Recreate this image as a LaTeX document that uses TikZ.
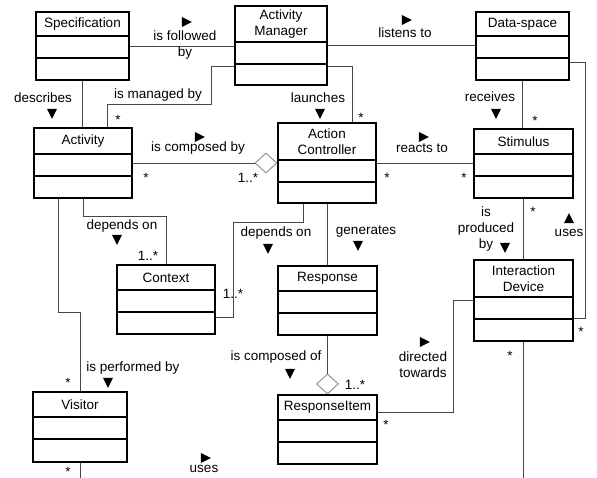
\documentclass[tikz,border=0pt]{standalone}
\usepackage{fontspec}
\setmainfont{Liberation Sans}
\usetikzlibrary{fit,shapes.geometric}

% class box: name, left, top, right, bottom, first divider, second divider, title
\newcommand{\umlclass}[8]{%
  \node[classbox, fit={(#2,#3) (#4,#5)}] (#1) {};
  \node[classname] (#1-name) at ({(#2+#4)/2},{(#3+#6)/2}) {#8};
  \draw[divider] (#2,#6) -- (#4,#6) (#2,#7) -- (#4,#7);
}

\begin{document}
\begin{tikzpicture}[x=1pt,y=-1pt,font=\fontsize{13.5}{16}\selectfont]
        \tikzstyle{classbox}=[rectangle,draw=black,line width=1.2pt,inner sep=0pt]
        \tikzstyle{classname}=[align=center,inner sep=0pt]
        \tikzstyle{divider}=[draw=black,line width=1.2pt]
        \tikzstyle{assoc}=[draw=black!72,line width=0.9pt]
        \tikzstyle{agg}=[diamond,draw=black!45,fill=white,line width=0.9pt,inner sep=0pt,minimum width=22pt,minimum height=20pt]
        \tikzstyle{lab}=[align=center,inner sep=0pt]
        \tikzstyle{mult}=[inner sep=0pt]
        \tikzstyle{tri}=[isosceles triangle,isosceles triangle stretches,fill=black,inner sep=0pt,minimum width=10pt,minimum height=10pt,shape border rotate=#1]

        \path[use as bounding box,fill=white] (0,0) rectangle (597,478);

        % classes
        \umlclass{spec}{36}{12}{129}{80}{36}{58}{Specification}
        \umlclass{mgr}{235}{6}{327}{85}{42}{64}{Activity\\Manager}
        \umlclass{space}{476}{12}{569}{80}{36}{58}{Data-space}
        \umlclass{act}{34}{128}{132}{198}{154}{176}{Activity}
        \umlclass{ctrl}{278}{123}{376}{203}{160}{182}{Action\\Controller}
        \umlclass{stim}{474}{129}{573}{198}{154}{176}{Stimulus}
        \umlclass{ctx}{117}{265}{215}{334}{290}{312}{Context}
        \umlclass{resp}{278}{266}{377}{335}{291}{313}{Response}
        \umlclass{dev}{474}{260}{573}{341}{297}{319}{Interaction\\Device}
        \umlclass{vis}{33}{392}{127}{462}{417}{439}{Visitor}
        \umlclass{item}{278}{395}{377}{464}{420}{442}{ResponseItem}

        \node[agg, anchor=east] (aggctrl) at (ctrl.west) {};
        \node[agg, anchor=south] (aggitem) at (item.north) {};

        \coordinate (mgdbend) at (211,104);
        \coordinate (usesbend) at (585,318);
        \coordinate (depbend) at (166,216);
        \coordinate (ctxbend) at (233,222);
        \coordinate (dirbend) at (453,412);
        \coordinate (perfbend) at (80,312);
        \coordinate (visend) at (80,478);
        \coordinate (devend) at (523.5,478);

        % associations
        \draw[assoc] (spec.east) -- (spec.east -| mgr.west);
        \draw[assoc] (mgr.east) -- (mgr.east -| space.west);
        \draw[assoc] (spec.south) -- (spec.south |- act.north);
        \draw[assoc] ([xshift=24]act.north) |- (mgdbend) |- ([yshift=-20.5]mgr.west);
        \draw[assoc] ([yshift=-20.5]mgr.east) -| ([xshift=25]ctrl.north);
        \draw[assoc] (space.south) -- (space.south |- stim.north);
        \draw[assoc] ([yshift=-16]space.east) -| (usesbend) -- (usesbend -| dev.east);
        \draw[assoc] (act.east) -- (aggctrl.west);
        \draw[assoc] (ctrl.east) -- (ctrl.east -| stim.west);
        \draw[assoc] (act.south) |- (depbend) -- (ctx.north);
        \draw[assoc] ([yshift=-17.5]ctx.east) -| (ctxbend) -| ([xshift=-24]ctrl.south);
        \draw[assoc] (ctrl.south) -- (ctrl.south |- resp.north);
        \draw[assoc] (stim.south) -- (dev.north);
        \draw[assoc] (dev.west) -| (dirbend) -- (dirbend -| item.east);
        \draw[assoc] (resp.south) -- (aggitem.north);
        \draw[assoc] ([xshift=-25]act.south) |- (perfbend) -- (vis.north);
        \draw[assoc] (vis.south) -- (visend);
        \draw[assoc] (dev.south) -- (devend);

        % labels
        \node[tri=0] (tfollow) at (185,22) {};
        \node[lab] (lfollow) at (185,45) {is followed\\by};
        \node[tri=0] (tlisten) at (405,20) {};
        \node[lab] (llisten) at (405,33) {listens to};
        \node[lab] (ldescr) at (43,98) {describes};
        \node[tri=-90] (tdescr) at (52,112) {};
        \node[lab] (lmanaged) at (158,95) {is managed by};
        \node[lab] (llaunch) at (318,98) {launches};
        \node[tri=-90] (tlaunch) at (320,112) {};
        \node[lab] (lrecv) at (490,97) {receives};
        \node[tri=-90] (trecv) at (496,112) {};
        \node[tri=90] (tuses) at (569,220) {};
        \node[lab] (luses) at (569,233) {uses};
        \node[tri=0] (tcompby) at (198,137) {};
        \node[lab] (lcompby) at (198,148) {is composed by};
        \node[tri=0] (treact) at (422,137) {};
        \node[lab] (lreact) at (422,148) {reacts to};
        \node[lab] (ldep1) at (122,226) {depends on};
        \node[tri=-90] (tdep1) at (117,238) {};
        \node[lab] (ldep2) at (276,233) {depends on};
        \node[tri=-90] (tdep2) at (268,247) {};
        \node[lab] (lgen) at (366,232) {generates};
        \node[tri=-90] (tgen) at (358,244) {};
        \node[lab] (lprod) at (486,229) {is\\produced\\by};
        \node[tri=-90] (tprod) at (505,246) {};
        \node[tri=0] (tdir) at (423,342) {};
        \node[lab] (ldir) at (423,365) {directed\\towards};
        \node[lab] (lcompof) at (276,357) {is composed of};
        \node[tri=-90] (tcompof) at (290,372) {};
        \node[lab] (lperf) at (133,368) {is performed by};
        \node[tri=-90] (tperf) at (108,381) {};
        \node[tri=0] (tvuses) at (204,458) {};
        \node[lab] (lvuses) at (204,469) {uses};

        % multiplicities
        \node[mult] (m1) at (118,120) {*};
        \node[mult] (m2) at (361,118) {*};
        \node[mult] (m3) at (535,121) {*};
        \node[mult] (m4) at (581,332) {*};
        \node[mult] (m5) at (146,178) {*};
        \node[mult] (m6) at (248,178) {1..*};
        \node[mult] (m7) at (387,178) {*};
        \node[mult] (m8) at (464,178) {*};
        \node[mult] (m9) at (148,256) {1..*};
        \node[mult] (m10) at (233,294) {1..*};
        \node[mult] (m11) at (533,212) {*};
        \node[mult] (m12) at (386,425) {*};
        \node[mult] (m13) at (355,385) {1..*};
        \node[mult] (m14) at (68,383) {*};
        \node[mult] (m15) at (68,472) {*};
        \node[mult] (m16) at (510,356) {*};
\end{tikzpicture}
\end{document}
